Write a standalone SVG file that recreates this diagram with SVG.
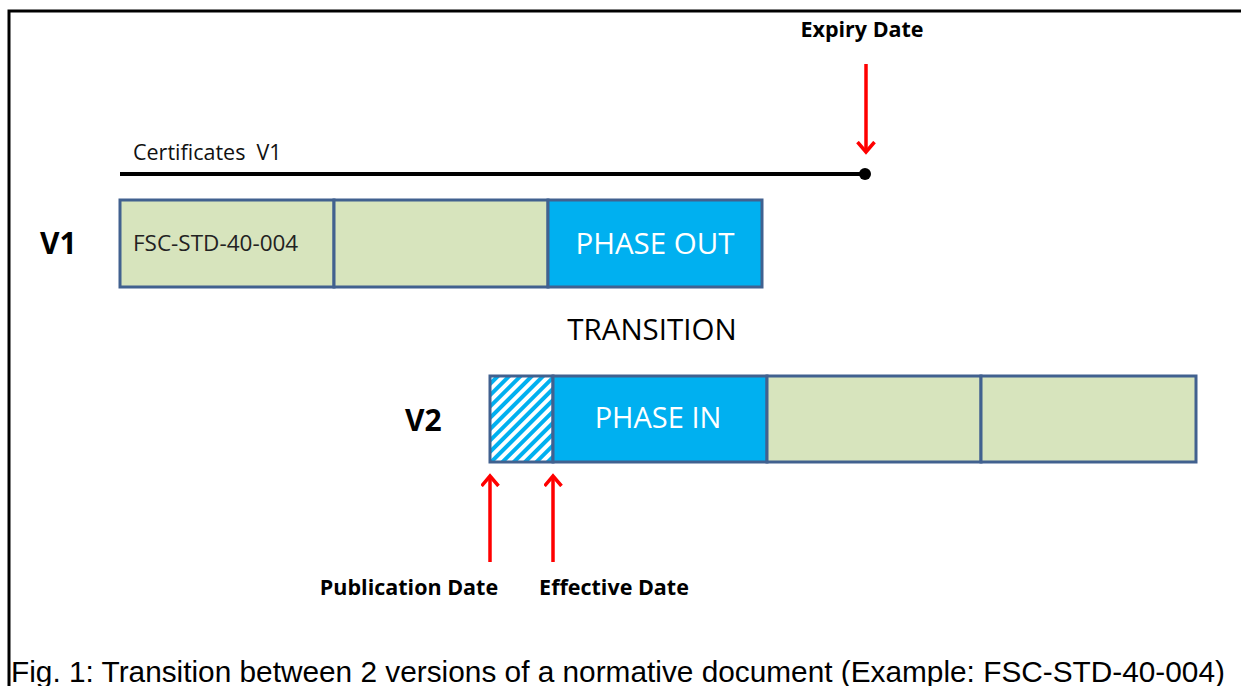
<svg xmlns="http://www.w3.org/2000/svg" width="1241" height="686" viewBox="0 0 1241 686">
<defs>
<style>
.cell{stroke:#41618F;stroke-width:3}
.green{fill:#D7E4BD}
.blue{fill:#00B0F0}
.lbl{font-family:"Open Sans","Noto Sans",sans-serif}
.bold{font-family:"Open Sans","Noto Sans",sans-serif;font-weight:bold;fill:#000}
.arrow{stroke:#FF0000;stroke-width:3.5;fill:none}
</style>
<pattern id="hatch" patternUnits="userSpaceOnUse" width="8" height="8" patternTransform="rotate(45)">
<rect width="8" height="8" fill="#fff"/>
<rect width="4" height="8" fill="#00B0F0"/>
</pattern>
<marker id="head" markerWidth="14" markerHeight="20" refX="11" refY="9.5" orient="auto" markerUnits="userSpaceOnUse">
<path d="M1,1 L11,9.5 L1,18" fill="none" stroke="#FF0000" stroke-width="3.5"/>
</marker>
</defs>
<rect width="1241" height="686" fill="#fff"/>
<path d="M9,686 V11 H1241" fill="none" stroke="#000" stroke-width="3"/>

<g id="certificates">
<text class="lbl" x="133" y="160" font-size="21.5" fill="#111" style="white-space:pre">Certificates  V1</text>
<line x1="120" y1="174" x2="865" y2="174" stroke="#000" stroke-width="4"/>
<circle cx="865" cy="174" r="6" fill="#000"/>
</g>

<g id="v1-label"><text class="bold" x="40" y="254" font-size="30">V1</text></g>
<g id="v1-bar">
<rect class="cell green" x="120" y="200" width="214" height="87"/>
<rect class="cell green" x="334" y="200" width="214" height="87"/>
<rect class="cell blue" x="548" y="200" width="214" height="87"/>
<text class="lbl" x="133" y="251" font-size="22.5" fill="#222">FSC-STD-40-004</text>
<text class="lbl" x="655" y="254" font-size="29.5" fill="#fff" text-anchor="middle">PHASE OUT</text>
</g>

<g id="transition"><text class="lbl" x="652" y="340" font-size="29.5" fill="#000" text-anchor="middle">TRANSITION</text></g>

<g id="v2-label"><text class="bold" x="405" y="431" font-size="30">V2</text></g>
<g id="v2-bar">
<rect class="cell" x="490" y="376" width="63" height="86" fill="url(#hatch)"/>
<rect class="cell blue" x="553" y="376" width="214" height="86"/>
<rect class="cell green" x="767" y="376" width="214" height="86"/>
<rect class="cell green" x="981" y="376" width="215" height="86"/>
<text class="lbl" x="658" y="428" font-size="29" fill="#fff" text-anchor="middle">PHASE IN</text>
</g>

<g id="connectors">
<line class="arrow" x1="866" y1="64" x2="866" y2="152" marker-end="url(#head)"/>
<line class="arrow" x1="490" y1="562" x2="490" y2="476" marker-end="url(#head)"/>
<line class="arrow" x1="553" y1="562" x2="553" y2="476" marker-end="url(#head)"/>
</g>

<g id="expiry-date"><text class="bold" x="862" y="37" font-size="21.5" text-anchor="middle">Expiry Date</text></g>
<g id="publication-date"><text class="bold" x="409" y="595" font-size="21.5" text-anchor="middle">Publication Date</text></g>
<g id="effective-date"><text class="bold" x="614" y="595" font-size="21.5" text-anchor="middle">Effective Date</text></g>

<g id="caption"><text x="11" y="682" font-family="Liberation Sans, Arial, sans-serif" font-size="29.8" fill="#000">Fig. 1: Transition between 2 versions of a normative document (Example: FSC-STD-40-004)</text></g>
</svg>
